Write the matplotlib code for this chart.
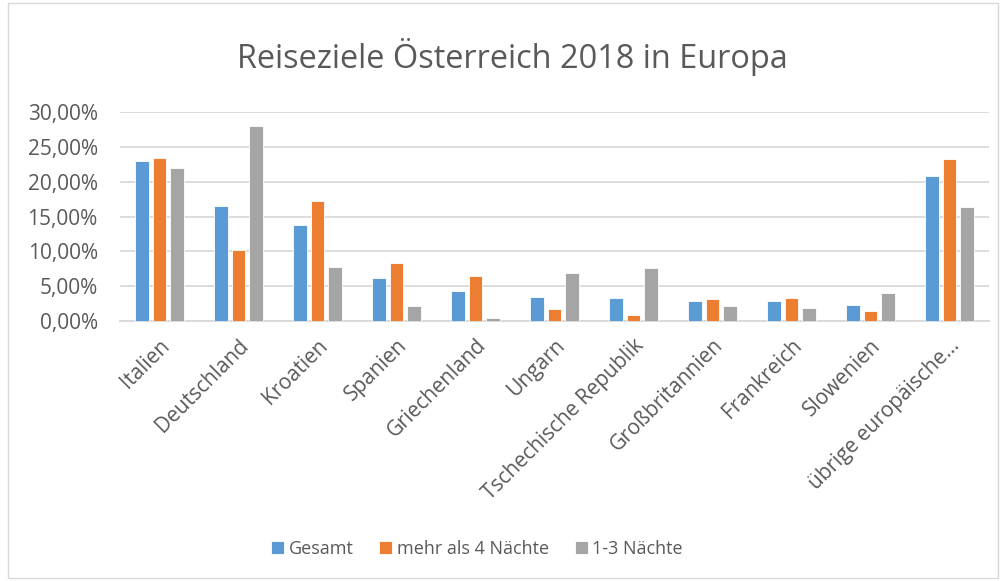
import matplotlib
matplotlib.use("Agg")
import matplotlib.pyplot as plt
import numpy as np
from matplotlib.patches import Rectangle
from matplotlib.ticker import FuncFormatter

# Data (share of trips)
countries = ["Italien", "Deutschland", "Kroatien", "Spanien", "Griechenland",
             "Ungarn", "Tschechische Republik", "Großbritannien", "Frankreich",
             "Slowenien", "übrige europäische..."]
gesamt = [22.98, 16.54, 13.80, 6.15, 4.28, 3.51, 3.27, 2.93, 2.84, 2.36, 20.77]
mehr_4 = [23.46, 10.19, 17.16, 8.37, 6.44, 1.68, 0.91, 3.22, 3.37, 1.44, 23.22]
kurz_1_3 = [21.97, 27.98, 7.74, 2.21, 0.48, 6.92, 7.60, 2.21, 1.92, 3.99, 16.30]
series_names = ["Gesamt", "mehr als 4 Nächte", "1-3 Nächte"]
yticks = [0, 5, 10, 15, 20, 25, 30]

C_BLUE = "#5b9bd5"
C_ORANGE = "#ed7d31"
C_GRAY = "#a5a5a5"
TXT = "#595959"
GRID = "#d9d9d9"

plt.rcParams["font.family"] = ["Open Sans", "DejaVu Sans"]

W, H = 1004, 581
fig = plt.figure(figsize=(W / 100, H / 100), dpi=100)
fig.patches.append(Rectangle((8 / W, 3 / H), 990 / W, 575 / H, transform=fig.transFigure,
                             fill=False, edgecolor="#d9d9d9", linewidth=1))

ax = fig.add_axes([120 / W, 1 - 321 / H, 869 / W, 209 / H])

x = np.arange(len(countries))
bw = 0.175
off = 0.222
for vals, color, name, dx in [(gesamt, C_BLUE, series_names[0], -off),
                              (mehr_4, C_ORANGE, series_names[1], 0),
                              (kurz_1_3, C_GRAY, series_names[2], off)]:
    ax.bar(x + dx, np.array(vals) / 100, width=bw, color=color, label=name,
           edgecolor="white", linewidth=0.6, zorder=3)

ax.set_xlim(-0.5, len(countries) - 0.5)
ax.set_ylim(0, 0.30)
ax.set_yticks([v / 100 for v in yticks])
ax.yaxis.set_major_formatter(FuncFormatter(lambda v, p: f"{v * 100:.2f}%".replace(".", ",")))
ax.set_xticks(x)
ax.set_xticklabels(countries, rotation=45, ha="right", rotation_mode="anchor")
ax.tick_params(axis="both", length=0, colors=TXT, labelsize=15)
ax.tick_params(axis="y", pad=16)
ax.tick_params(axis="x", pad=10)
ax.grid(axis="y", color=GRID, linewidth=1.3, zorder=0)
ax.set_axisbelow(True)
for s in ("top", "right", "left"):
    ax.spines[s].set_visible(False)
ax.spines["bottom"].set_color(GRID)
ax.spines["bottom"].set_linewidth(1.3)

fig.text(512 / W, 1 - 57 / H, "Reiseziele Österreich 2018 in Europa", ha="center", va="center",
         fontsize=23.4, color=TXT)

leg = fig.legend(loc="center", bbox_to_anchor=(477 / W, 1 - 549 / H), ncol=3, frameon=False,
                 fontsize=13, handlelength=0.7, handleheight=0.7, handletextpad=0.25,
                 columnspacing=1.45)
for t in leg.get_texts():
    t.set_color(TXT)

fig.savefig("out.png", dpi=100, facecolor="white")
